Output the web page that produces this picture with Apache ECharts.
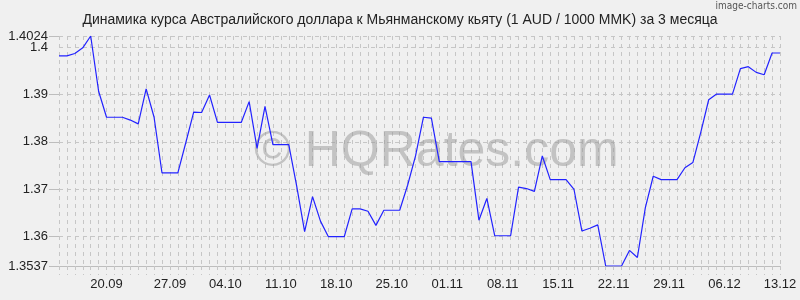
<!DOCTYPE html>
<html>
<head>
<meta charset="utf-8">
<script src="https://cdn.jsdelivr.net/npm/echarts@6/dist/echarts.min.js"></script>
<style>
html,body{margin:0;padding:0;background:#f0f0f0;}
#chart{width:800px;height:300px;}
</style>
</head>
<body>
<div id="chart"></div>
<script>
var titleText = 'Динамика курса Австралийского доллара к Мьянманскому кьяту (1 AUD / 1000 MMK) за 3 месяца';

var categories = [
 '13.09','14.09','15.09','16.09','17.09','18.09','19.09','20.09','21.09','22.09','23.09','24.09','25.09','26.09','27.09','28.09','29.09','30.09',
 '01.10','02.10','03.10','04.10','05.10','06.10','07.10','08.10','09.10','10.10','11.10','12.10','13.10','14.10','15.10','16.10','17.10','18.10','19.10','20.10','21.10','22.10','23.10','24.10','25.10','26.10','27.10','28.10','29.10','30.10','31.10',
 '01.11','02.11','03.11','04.11','05.11','06.11','07.11','08.11','09.11','10.11','11.11','12.11','13.11','14.11','15.11','16.11','17.11','18.11','19.11','20.11','21.11','22.11','23.11','24.11','25.11','26.11','27.11','28.11','29.11','30.11',
 '01.12','02.12','03.12','04.12','05.12','06.12','07.12','08.12','09.12','10.12','11.12','12.12','13.12'
];

var rates = [
 1.3982,1.3982,1.3987,1.3999,1.4024,1.3907,1.3852,1.3852,1.3852,1.3846,
 1.3838,1.3912,1.3852,1.3734,1.3734,1.3734,1.3798,1.3863,1.3862,1.3899,
 1.3841,1.3841,1.3841,1.3841,1.3885,1.3786,1.3875,1.3794,1.3794,1.3794,
 1.3706,1.3610,1.3684,1.3632,1.3599,1.3599,1.3599,1.3658,1.3658,1.3653,
 1.3623,1.3655,1.3655,1.3655,1.3708,1.3770,1.3852,1.3850,1.3758,1.3758,
 1.3758,1.3758,1.3758,1.3634,1.3680,1.3601,1.3601,1.3601,1.3704,1.3701,
 1.3695,1.3770,1.3720,1.3720,1.3720,1.3699,1.3611,1.3617,1.3624,1.3537,
 1.3537,1.3537,1.3570,1.3555,1.3660,1.3727,1.3720,1.3720,1.3720,1.3745,
 1.3756,1.3820,1.3889,1.3901,1.3901,1.3901,1.3955,1.3959,1.3947,1.3942,
 1.3988,1.3988
];

var tickLabels = ['20.09','27.09','04.10','11.10','18.10','25.10','01.11','08.11','15.11','22.11','29.11','06.12','13.12'];
var tickIndices = [6,14,21,28,35,42,49,56,63,70,77,84,91];

var yMin = 1.3537, yMax = 1.4024;
var yExtraLabel = 1.4;

var labelAt = {};
tickIndices.forEach(function(ix, k){ labelAt[ix] = tickLabels[k]; });

var chart = echarts.init(document.getElementById('chart'), null, {renderer:'canvas'});
var gridColor = '#c6c6c6';
var labelFont = 'Liberation Sans, Arial, sans-serif';
chart.setOption({
  backgroundColor: '#f0f0f0',
  animation: false,
  title: {
    text: titleText,
    left: 'center',
    top: 8,
    textStyle: {fontFamily: labelFont, fontSize: 14, fontWeight: 'normal', color: '#222'}
  },
  graphic: [
    {type:'text', right: 3, top: 1, z: 5,
     style:{text:'image-charts.com', font:'10px "DejaVu Sans Condensed", "Liberation Sans Narrow", sans-serif', fill:'#555'}},
    {type:'text', left: 254, top: 127, z: 1, silent: true,
     style:{text:'© HQRates.com', font:'50px "Liberation Sans", Arial, sans-serif', fill:'rgba(150,150,150,0.5)'}}
  ],
  grid: {left: 59, right: 20, top: 36, bottom: 34, containLabel: false},
  xAxis: {
    type: 'category',
    data: categories,
    boundaryGap: false,
    axisLine: {show: true, lineStyle: {color: '#bdbdbd', width: 1}},
    axisTick: {show: true, interval: 0, length: 9, lineStyle: {color: gridColor, type: [4,4]}},
    axisLabel: {
      interval: 0, margin: 12, color: '#222', fontSize: 13,
      fontFamily: labelFont,
      formatter: function(v, i){ return labelAt[i] || ''; }
    },
    splitLine: {show: true, interval: 0, lineStyle: {color: gridColor, type: [4,4], width: 1}}
  },
  yAxis: [{
    type: 'value',
    min: yMin, max: yMax,
    splitNumber: 5,
    axisLine: {show: false},
    axisTick: {show: true, length: 10, lineStyle: {color: '#bdbdbd'}},
    axisLabel: {margin: 11, color: '#222', fontSize: 13, showMinLabel: true, showMaxLabel: true, hideOverlap: false,
      fontFamily: labelFont},
    splitLine: {show: true, lineStyle: {color: gridColor, type: [4,4], width: 1}}
  }, {
    type: 'value',
    position: 'left',
    min: yMin, max: yMax,
    splitNumber: 5,
    axisLine: {show: false},
    axisTick: {show: false},
    splitLine: {show: false},
    axisLabel: {margin: 11, color: '#222', fontSize: 13, showMinLabel: false, showMaxLabel: false, hideOverlap: false,
      fontFamily: labelFont,
      formatter: function(v){ return Math.abs(v - yExtraLabel) < 1e-9 ? String(yExtraLabel) : ''; }}
  }],
  series: [{
    type: 'line',
    data: rates,
    showSymbol: false,
    symbol: 'none',
    z: 3,
    lineStyle: {color: '#2222ff', width: 1.2}
  }]
});
</script>
</body>
</html>
